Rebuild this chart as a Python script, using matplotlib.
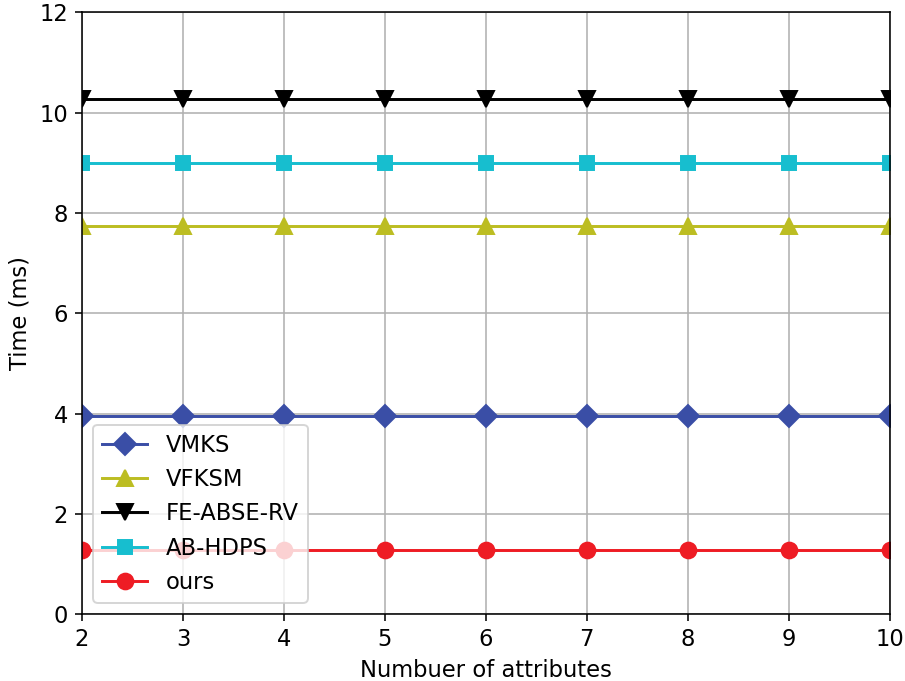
import matplotlib
matplotlib.use('Agg')
import matplotlib.pyplot as plt

# number of attributes
attrs = [2, 3, 4, 5, 6, 7, 8, 9, 10]

# time in ms for each scheme (flat across attributes)
vmks = [3.96] * 9
vfksm = [7.74] * 9
fe_abse_rv = [10.27] * 9
ab_hdps = [8.99] * 9
ours = [1.28] * 9

plt.rcParams['font.size'] = 11.5

fig = plt.figure(figsize=(905 / 141.4, 681 / 141.4), dpi=141.4)
ax = fig.add_axes([0.0906, 0.098, 0.8924, 0.884])

ax.plot(attrs, vmks, color='#3a4ea6', marker='D', markersize=8, linewidth=1.5, label='VMKS')
ax.plot(attrs, vfksm, color='#bcbd22', marker='^', markersize=8, linewidth=1.5, label='VFKSM')
ax.plot(attrs, fe_abse_rv, color='black', marker='v', markersize=8, linewidth=1.5, label='FE-ABSE-RV')
ax.plot(attrs, ab_hdps, color='#17becf', marker='s', markersize=7, linewidth=1.5, label='AB-HDPS')
ax.plot(attrs, ours, color='#ee1c24', marker='o', markersize=8, linewidth=1.5, label='ours')

ax.set_xlim(2, 10)
ax.set_ylim(0, 12)
ax.set_xticks(attrs)
ax.set_yticks([0, 2, 4, 6, 8, 10, 12])
ax.grid(True)
ax.set_xlabel('Numbuer of attributes')
ax.set_ylabel('Time (ms)')
ax.legend(loc='lower left')

plt.savefig('out.png', dpi=141.4)
plt.close(fig)
